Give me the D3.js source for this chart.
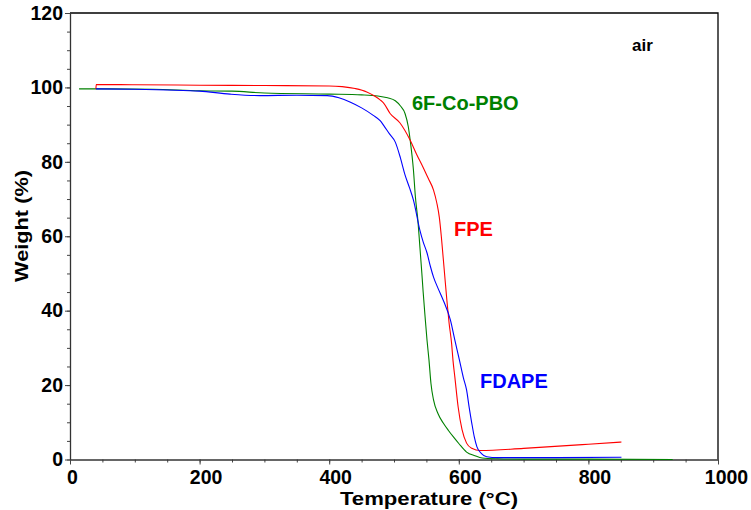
<!DOCTYPE html>
<html>
<head>
  <title>TGA curves in air</title>
  <script src="https://d3js.org/d3.v7.min.js"></script>
  <style>
    body { margin: 0; background: #fff; }
    text { font-family: "Liberation Sans", Arial, sans-serif; font-weight: bold; }
  </style>
</head>
<body>
  <div id="chart"></div>

  <script>
    // temperature (°C) and weight (%)
    const pboTemp = [14, 60, 128, 200, 250, 300, 400, 450, 475, 490, 502, 510, 517, 522, 525, 530, 533, 537, 540, 543, 545, 548, 551, 554, 557, 561, 568, 576, 584, 592, 600, 612, 625, 636, 660, 700, 800, 930];
    const pboWeight = [99.6, 99.6, 99.5, 99.1, 99.0, 98.5, 98.2, 98.0, 97.7, 97.2, 96.4, 95.0, 93.0, 89.5, 85.8, 77.8, 70.6, 64.0, 57.0, 50.0, 45.0, 38.3, 32.0, 26.7, 20.5, 16.0, 12.3, 9.8, 7.8, 6.0, 4.3, 2.0, 1.0, 0.4, 0.2, 0.1, 0.1, 0.0];

    const fpeTemp = [40, 40.5, 100, 200, 300, 400, 420, 440, 458, 470, 479, 484, 494, 509, 525, 535, 545, 553, 561, 566, 570, 573, 576, 578, 581.6, 585, 589, 591, 594, 599, 605, 612, 620, 633, 700, 800, 851];
    const fpeWeight = [99.6, 100.8, 100.7, 100.6, 100.5, 100.4, 100.2, 99.7, 98.8, 97.7, 96.6, 95.8, 93.0, 90.5, 85.8, 82.0, 78.5, 75.5, 72.4, 69.0, 65.0, 60.0, 54.0, 50.0, 42.8, 36.7, 31.0, 26.7, 22.0, 14.1, 8.0, 4.4, 3.0, 2.4, 3.0, 4.1, 4.7];

    const fdapeTemp = [40, 100, 150, 200, 247, 293, 350, 397, 415, 432, 450, 468, 479, 484, 493, 502, 510, 517, 524, 530, 540, 545, 551, 556, 561, 568, 576, 587, 594, 601, 607, 612, 616, 620, 624, 628, 635, 643, 660, 750, 851];
    const fdapeWeight = [99.6, 99.5, 99.3, 99.0, 98.2, 97.8, 97.9, 97.8, 97.2, 96.1, 94.5, 92.5, 91.0, 89.8, 87.5, 85.3, 81.0, 76.5, 73.0, 69.7, 61.6, 58.5, 55.5, 52.0, 49.0, 46.0, 42.8, 37.5, 32.0, 26.7, 22.0, 18.7, 14.0, 9.8, 6.0, 3.4, 1.6, 0.75, 0.5, 0.5, 0.6];

    const seriesNames = ["6F-Co-PBO", "FPE", "FDAPE"];
    const xTicks = [0, 200, 400, 600, 800, 1000];
    const yTicks = [0, 20, 40, 60, 80, 100, 120];

    const series = [
      { name: seriesNames[0], temp: pboTemp, weight: pboWeight, color: "#008000", lx: 412, ly: 110 },
      { name: seriesNames[1], temp: fpeTemp, weight: fpeWeight, color: "#ff0000", lx: 454, ly: 236 },
      { name: seriesNames[2], temp: fdapeTemp, weight: fdapeWeight, color: "#0000ff", lx: 480, ly: 388 }
    ];

    const totalW = 751, totalH = 510;
    const margin = { top: 13, right: 33, bottom: 50.5, left: 70 };
    const width = totalW - margin.left - margin.right;
    const height = totalH - margin.top - margin.bottom;

    const svg = d3.select("#chart")
      .append("svg")
      .attr("width", totalW)
      .attr("height", totalH);

    const g = svg.append("g")
      .attr("transform", `translate(${margin.left},${margin.top})`);

    const x = d3.scaleLinear().domain([0, 1000]).range([0, width]);
    const y = d3.scaleLinear().domain([0, 120]).range([height, 0]);

    // frame top and right
    g.append("path")
      .attr("d", `M0,0H${width}V${height}`)
      .attr("fill", "none")
      .attr("stroke", "#000")
      .attr("stroke-width", 1.3);

    // minor ticks
    g.append("g")
      .attr("transform", `translate(0,${height})`)
      .call(d3.axisBottom(x).tickValues(d3.range(0, 1001, 50)).tickSize(3).tickFormat(""))
      .call(a => a.select(".domain").remove());
    g.append("g")
      .call(d3.axisLeft(y).tickValues(d3.range(0, 121, 5)).tickSize(3).tickFormat(""))
      .call(a => a.select(".domain").remove());

    // major axes
    const xAxis = g.append("g")
      .attr("transform", `translate(0,${height})`)
      .call(d3.axisBottom(x).tickValues(xTicks).tickFormat(d3.format("d"))
        .tickSize(5).tickPadding(6).tickSizeOuter(0));
    xAxis.selectAll("text")
      .attr("dx", d => 2 + 2 * (String(d).length - 1));

    const yAxis = g.append("g")
      .call(d3.axisLeft(y).tickValues(yTicks).tickSize(5).tickPadding(2).tickSizeOuter(0));

    [xAxis, yAxis].forEach(a => {
      a.selectAll("text")
        .attr("fill", "#000")
        .style("font-size", "19.5px")
        .style("font-family", '"Liberation Sans", Arial, sans-serif')
        .style("font-weight", "bold");
      a.select(".domain").attr("stroke", "#333").attr("stroke-width", 1.3);
    });
    g.selectAll(".tick line").attr("stroke", "#444");

    // curves
    const line = d3.line()
      .x(d => x(d[0]))
      .y(d => y(d[1]))
      .curve(d3.curveMonotoneX);

    series.forEach(s => {
      const pts = s.temp.map((t, i) => [t, s.weight[i]]);
      g.append("path")
        .datum(pts)
        .attr("fill", "none")
        .attr("stroke", s.color)
        .attr("stroke-width", 1.1)
        .attr("d", line);

      svg.append("text")
        .attr("x", s.lx)
        .attr("y", s.ly)
        .attr("fill", s.color)
        .style("font-size", "20px")
        .text(s.name);
    });

    svg.append("text")
      .attr("x", 632)
      .attr("y", 50.5)
      .attr("fill", "#000")
      .style("font-size", "17px")
      .text("air");

    // axis titles
    svg.append("text")
      .attr("x", 429)
      .attr("y", 505)
      .attr("text-anchor", "middle")
      .attr("textLength", 178)
      .attr("lengthAdjust", "spacingAndGlyphs")
      .style("font-size", "19px")
      .text("Temperature (°C)");

    svg.append("text")
      .attr("transform", "translate(28,226) rotate(-90)")
      .attr("text-anchor", "middle")
      .attr("textLength", 112)
      .attr("lengthAdjust", "spacingAndGlyphs")
      .style("font-size", "19px")
      .text("Weight (%)");
  </script>
</body>
</html>
